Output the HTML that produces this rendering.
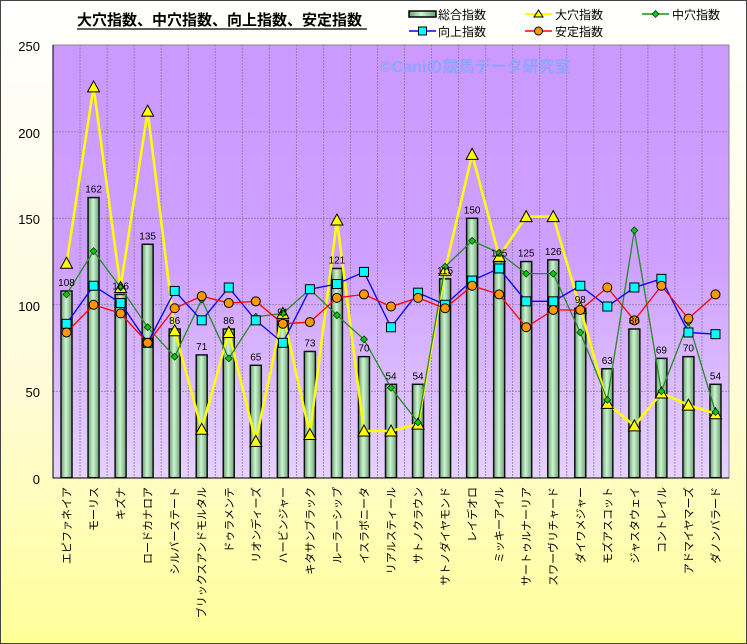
<!DOCTYPE html><html><head><meta charset="utf-8"><style>
html,body{margin:0;padding:0;width:747px;height:644px;overflow:hidden}
svg{display:block;font-family:"Liberation Sans","Noto Sans CJK JP",sans-serif}
</style></head><body>
<svg id="c" width="747" height="644" xmlns="http://www.w3.org/2000/svg">
<defs>
<linearGradient id="bg" x1="0" y1="0" x2="0" y2="1"><stop offset="0" stop-color="#ffffff"/><stop offset="0.6" stop-color="#fffbd8"/><stop offset="1" stop-color="#ffff99"/></linearGradient>
<linearGradient id="pl" x1="0" y1="0" x2="0" y2="1"><stop offset="0" stop-color="#cc99ff"/><stop offset="0.5" stop-color="#cfa0ff"/><stop offset="1" stop-color="#e6d2ff"/></linearGradient>
<linearGradient id="bar" x1="0" y1="0" x2="1" y2="0"><stop offset="0" stop-color="#6a9f70"/><stop offset="0.45" stop-color="#ccf5d2"/><stop offset="1" stop-color="#6a9f70"/></linearGradient>
</defs>
<rect x="0.5" y="0.5" width="746" height="643" fill="url(#bg)" stroke="#444"/>
<rect x="53" y="45" width="676" height="433" fill="url(#pl)" stroke="#888"/>
<g id="grid"></g>
<text x="380" y="72" font-size="16" font-weight="bold" fill="#8fa4ff">©Caniの競馬データ研究室</text>
<g id="bars"></g><g id="lines"></g><g id="lbl"></g>
<line x1="53" y1="45" x2="53" y2="478" stroke="#000"/><line x1="53" y1="478" x2="729" y2="478" stroke="#000"/>
<g font-size="13" text-anchor="end" fill="#000">
<text x="40" y="51">250</text><text x="40" y="138">200</text><text x="40" y="224">150</text><text x="40" y="311">100</text><text x="40" y="397">50</text><text x="40" y="484">0</text></g>
<text x="77" y="25" font-size="15" font-weight="bold">大穴指数、中穴指数、向上指数、安定指数</text>
<line x1="77" y1="29" x2="367" y2="29" stroke="#000" stroke-width="1.2"/>
<g font-size="12">
<rect x="409" y="11" width="27" height="6" fill="url(#bar)" stroke="#000" stroke-width="1.5"/><text x="438" y="19">総合指数</text>
<line x1="525" y1="14" x2="552" y2="14" stroke="#ff0" stroke-width="2"/><polygon points="538.5,10 543,17 534,17" fill="#ff0" stroke="#000"/><text x="555" y="19">大穴指数</text>
<line x1="642" y1="14" x2="669" y2="14" stroke="#228b22" stroke-width="1.5"/><polygon points="655.5,10.5 659,14 655.5,17.5 652,14" fill="#0c0" stroke="#000" stroke-width=".6"/><text x="672" y="19">中穴指数</text>
<line x1="409" y1="31" x2="436" y2="31" stroke="#00f" stroke-width="1.5"/><rect x="418.5" y="27" width="8" height="8" fill="#0ff" stroke="#000"/><text x="438" y="36">向上指数</text>
<line x1="525" y1="31" x2="552" y2="31" stroke="#f00" stroke-width="1.5"/><circle cx="538.5" cy="31" r="4" fill="#f90" stroke="#000"/><text x="555" y="36">安定指数</text>
</g>
</svg>
<script>
var N=["エピファネイア","モーリス","キズナ","ロードカナロア","シルバーステート","ブリックスアンドモルタル","ドゥラメンテ","リオンディーズ","ハービンジャー","キタサンブラック","ルーラーシップ","イスラボニータ","リアルスティール","サトノクラウン","サトノダイヤモンド","レイデオロ","ミッキーアイル","サートゥルナーリア","スワーヴリチャード","ダイワメジャー","モズアスコット","ジャスタウェイ","コントレイル","アドマイヤマーズ","ダノンバラード"];
var T=[108,162,106,135,86,71,86,65,91,73,121,70,54,54,115,150,125,125,126,98,63,86,69,70,54];
var A=[124,226,110,212,85,28,84,21,95,25,149,27,27,31,120,187,128,151,151,98,43,30,49,42,37];
var M=[106,131,110,87,70,103,69,93,95,109,94,80,52,32,122,137,130,118,118,84,45,143,50,90,38];
var U=[89,111,101,78,108,91,110,91,78,109,112,119,87,107,100,114,121,102,102,111,99,110,115,84,83];
var S=[84,100,95,78,98,105,101,102,89,90,104,106,99,104,98,111,106,87,97,97,110,91,111,92,106];
var ns="http://www.w3.org/2000/svg",W=676/25;
function X(i){return 53+W*(i+.5)}function Y(v){return 477.7-v*1.7292}
function el(p,t,a,tx){var e=document.createElementNS(ns,t);for(var k in a)e.setAttribute(k,a[k]);if(tx!=null)e.textContent=tx;document.getElementById(p).appendChild(e);return e}
for(var g=1;g<25;g++)el("grid","line",{x1:53+W*g,y1:45,x2:53+W*g,y2:478,stroke:"#8a7aa0","stroke-dasharray":"2,1","stroke-width":.8});
for(var v=50;v<250;v+=50)el("grid","line",{x1:53,y1:Y(v),x2:729,y2:Y(v),stroke:"#8a7aa0","stroke-dasharray":"2,1","stroke-width":.8});
for(var i=0;i<25;i++){el("bars","rect",{x:X(i)-5.5,y:Y(T[i]),width:11,height:477.7-Y(T[i]),fill:"url(#bar)",stroke:"#111","stroke-width":1.5});
el("lbl","text",{x:X(i),y:Y(T[i])-5,"font-size":10,"text-anchor":"middle"},T[i]);
el("lbl","text",{x:0,y:0,"font-size":11,"text-anchor":"end",transform:"translate("+(X(i)+4)+",487) rotate(-90)"},N[i]);}
function line(d,c,w){el("lines","polyline",{points:d.map(function(v,i){return X(i)+","+Y(v)}).join(" "),fill:"none",stroke:c,"stroke-width":w})}
line(A,"#ffff00",2.5);line(M,"#228b22",1.3);line(U,"#0000ff",1.3);line(S,"#ff0000",1.3);
for(i=0;i<25;i++){var x=X(i);
var y=Y(A[i]);el("lines","polygon",{points:x+","+(y-6)+" "+(x+6)+","+(y+5)+" "+(x-6)+","+(y+5),fill:"#ff0",stroke:"#000"});
y=Y(M[i]);el("lines","polygon",{points:x+","+(y-3.5)+" "+(x+3.5)+","+y+" "+x+","+(y+3.5)+" "+(x-3.5)+","+y,fill:"#0c0",stroke:"#000","stroke-width":.6});
y=Y(U[i]);el("lines","rect",{x:x-4.5,y:y-4.5,width:9,height:9,fill:"#0ff",stroke:"#000"});
y=Y(S[i]);el("lines","circle",{cx:x,cy:y,r:4.5,fill:"#f90",stroke:"#000"});}
</script>
</body></html>
